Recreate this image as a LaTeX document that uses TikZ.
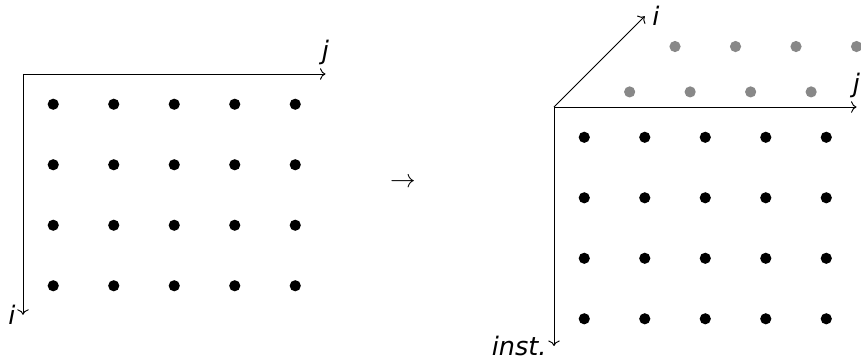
\documentclass[tikz,border=0pt]{standalone}
\usepackage{fontspec}
\newfontfamily\etiquetteFont{DejaVu Sans}
\usepackage{xcolor}
\definecolor{grisFond}{HTML}{888888}
\usetikzlibrary{arrows.meta, positioning, calc}
\tikzset{
  %% ── Points ───────────────────────────────────────────────────────────
  %% One instance is one dot; the later instances sit behind, in grey.
  point/.style     = {circle, fill=black, inner sep=0pt, minimum size=0.185cm},
  pointFond/.style = {point, fill=grisFond},
  %%
  %% ── Axes ─────────────────────────────────────────────────────────────
  axe/.style       = {->, line width=0.45pt},
  %%
  %% ── Text ─────────────────────────────────────────────────────────────
  etiquette/.style = {font=\etiquetteFont\itshape\fontsize{12}{14}\selectfont},
}

\begin{document}
\begin{tikzpicture}[x=1cm, y=1cm]
\useasboundingbox (0,0) rectangle (14.231,-5.950);

%% left: the plain grid
\coordinate (o1) at (0.380,-1.223);
\coordinate (j1) at ($(o1)+(5,0)$);
\coordinate (i1) at ($(o1)+(0,-3.98)$);
\draw[axe] (o1) -- (j1);
\draw[axe] (o1) -- (i1);
\node[etiquette, above, yshift=1pt] (lj1) at (j1) {j};
\node[etiquette, left] (li1) at (i1) {i};
\foreach \r in {0,...,3}
  \foreach \c in {0,...,4}
    \node[point] (a\r\c) at ($(o1)+(0.5+\c,-0.5-\r)$) {};

\node[font=\fontsize{12}{14}\selectfont] (fl) at (6.661,-3.025) {$\to$};

%% right: the grid stacked by instance
\coordinate (o2) at (9.157,-1.769);
\coordinate (j2) at ($(o2)+(5,0)$);
\coordinate (i2) at ($(o2)+(1.5,1.5)$);
\coordinate (k2) at ($(o2)+(0,-3.95)$);
\foreach \k in {1,2}
  \foreach \c in {0,...,3}
    \node[pointFond] (g\k\c) at ($(o2)+(0.5+\c+0.75*\k,-0.5+0.75*\k)$) {};
\draw[axe] (o2) -- (j2);
\draw[axe] (o2) -- (i2);
\draw[axe] (o2) -- (k2);
\node[etiquette, above, yshift=1pt] (lj2) at (j2) {j};
\node[etiquette, right] (li2) at (i2) {i};
\node[etiquette, left] (lk2) at (k2) {inst.};
\foreach \r in {0,...,3}
  \foreach \c in {0,...,4}
    \node[point] (b\r\c) at ($(o2)+(0.5+\c,-0.5-\r)$) {};

\end{tikzpicture}
\end{document}
